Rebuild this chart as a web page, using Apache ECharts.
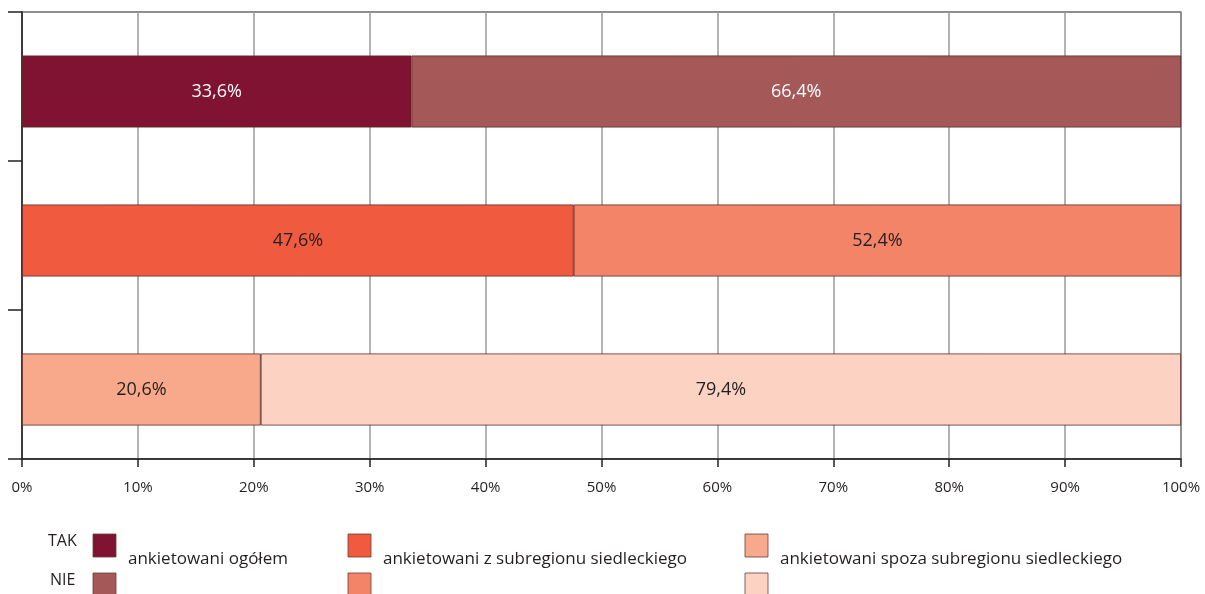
<!DOCTYPE html>
<html>
<head>
<meta charset="utf-8">
<script src="https://cdn.jsdelivr.net/npm/echarts@6/dist/echarts.min.js"></script>
<style>html,body{margin:0;padding:0;background:#fff}#c{width:1205px;height:594px}</style>
</head>
<body>
<div id="c"></div>
<script>
var categories = ['ankietowani ogółem', 'ankietowani z subregionu siedleckiego', 'ankietowani spoza subregionu siedleckiego'];
var takValues = [33.6, 47.6, 20.6];
var nieValues = [66.4, 52.4, 79.4];
var takColors = ['#7f1331', '#f05a3e', '#f8a98c'];
var nieColors = ['#a55858', '#f48467', '#fcd3c2'];
var labelColors = ['#ffffff', '#231f20', '#231f20'];
var xTicks = [0, 10, 20, 30, 40, 50, 60, 70, 80, 90, 100];
var seriesNames = ['TAK', 'NIE'];

var FONT = '"Open Sans", "Noto Sans", sans-serif';
var chart = echarts.init(document.getElementById('c'));

function fmt(v) { return v.toFixed(1).replace('.', ',') + '%'; }

function mkData(vals, cols) {
  return vals.map(function (v, i) {
    return {
      value: v,
      itemStyle: { color: cols[i] },
      label: { color: labelColors[i] }
    };
  });
}

// legend built from arrays
var legendX = [93, 348, 745];
var graphics = [];
graphics.push({ type: 'text', left: 48, top: 533, style: { text: seriesNames[0], font: '16px ' + FONT, fill: '#231f20' } });
graphics.push({ type: 'text', left: 50, top: 572, style: { text: seriesNames[1], font: '16px ' + FONT, fill: '#231f20' } });
categories.forEach(function (c, i) {
  graphics.push({ type: 'rect', shape: { x: legendX[i], y: 534, width: 23, height: 23 }, style: { fill: takColors[i], stroke: '#6b3a3a', lineWidth: 0.8 } });
  graphics.push({ type: 'rect', shape: { x: legendX[i], y: 573, width: 23, height: 23 }, style: { fill: nieColors[i], stroke: '#6b3a3a', lineWidth: 0.8 } });
  graphics.push({ type: 'text', left: legendX[i] + 35, top: 551, style: { text: c, font: '17px ' + FONT, fill: '#231f20' } });
});

var labelCfg = { show: true, position: 'inside', fontFamily: FONT, fontSize: 18, formatter: function (p) { return fmt(p.value); } };

chart.setOption({
  animation: false,
  grid: [
    { left: 22, right: 24, top: 12, bottom: 135, show: true, borderColor: '#231f20', borderWidth: 1.2 },
    { left: 22, right: 24, top: 17, bottom: 130 }
  ],
  xAxis: [{
    gridIndex: 0, type: 'value', min: 0, max: 100, interval: 10,
    axisLine: { show: true, lineStyle: { color: '#231f20', width: 1.5 } },
    axisTick: { show: true, length: 8, lineStyle: { color: '#231f20', width: 1.5 } },
    splitLine: { show: true, lineStyle: { color: '#9a9a9a', width: 1.5 } },
    axisLabel: { color: '#231f20', fontFamily: FONT, fontSize: 15, margin: 21,
      formatter: function (v) { return xTicks.indexOf(v) >= 0 ? v + '%' : ''; } }
  }, {
    gridIndex: 1, type: 'value', min: 0, max: 100, interval: 10, show: false
  }],
  yAxis: [{
    gridIndex: 0, type: 'category', data: categories, inverse: true,
    axisLine: { show: true, lineStyle: { color: '#231f20', width: 1.5 } },
    axisTick: { show: true, length: 14, lineStyle: { color: '#231f20', width: 1.5 } },
    axisLabel: { show: false }
  }, {
    gridIndex: 1, type: 'category', data: categories, inverse: true, show: false
  }],
  series: [
    { name: seriesNames[0], type: 'bar', stack: 's', barWidth: 72, xAxisIndex: 1, yAxisIndex: 1,
      data: mkData(takValues, takColors),
      itemStyle: { borderColor: '#5c2a2a', borderWidth: 0.8 }, label: labelCfg },
    { name: seriesNames[1], type: 'bar', stack: 's', barWidth: 72, xAxisIndex: 1, yAxisIndex: 1,
      data: mkData(nieValues, nieColors),
      itemStyle: { borderColor: '#5c2a2a', borderWidth: 0.8 }, label: labelCfg }
  ],
  graphic: graphics
});
</script>
</body>
</html>
